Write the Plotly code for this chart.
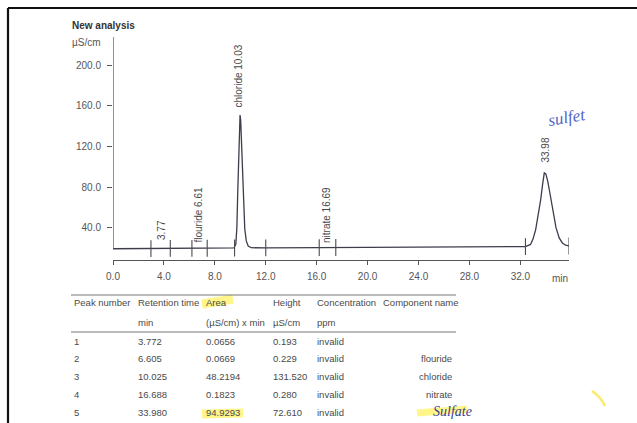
import plotly.graph_objects as go

# ---------------- data ----------------
time_min = [0.0, 2.98, 4.5, 6.2, 7.4, 9.50, 9.65, 9.73, 9.80, 9.87, 9.93, 9.98,
            10.03, 10.09, 10.16, 10.25, 10.35, 10.47, 10.62, 10.85, 12.0, 16.2,
            17.5, 24.0, 32.4, 32.8, 33.0, 33.2, 33.4, 33.6, 33.75, 33.88, 34.0,
            34.15, 34.35, 34.55, 34.8, 35.05, 35.3, 35.55, 35.82]
signal = [19.3, 19.5, 19.6, 19.7, 19.8, 20.1, 24, 40, 75, 118, 143, 151,
          146, 125, 95, 62, 39, 27, 22, 20.3, 20.1, 20.4,
          20.5, 20.9, 21.4, 23.5, 29, 38, 52, 68, 83, 94, 93,
          86, 72, 56, 40, 30, 25, 22.8, 22.0]

marker_times = [2.98, 4.5, 6.2, 7.4, 9.55, 12.0, 16.2, 17.5, 32.4, 35.82]
marker_level = [19.5, 19.6, 19.7, 19.8, 20.0, 20.1, 20.4, 20.5, 21.4, 22.0]

peak_label_text = ["3.77", "flouride 6.61", "chloride 10.03", "nitrate 16.69", "33.98"]
peak_label_x = [3.77, 6.68, 9.82, 16.81, 33.94]
peak_label_y = [25.9, 23.0, 156.0, 23.0, 101.8]

x_ticks = [0, 4, 8, 12, 16, 20, 24, 28, 32]
x_tick_text = ["0.0", "4.0", "8.0", "12.0", "16.0", "20.0", "24.0", "28.0", "32.0"]
y_ticks = [40, 80, 120, 160, 200]
y_tick_text = ["40.0", "80.0", "120.0", "160.0", "200.0"]

header_1 = ["Peak number", "Retention time", "Area", "Height", "Concentration", "Component name"]
header_2 = ["", "min", "(µS/cm) x min", "µS/cm", "ppm", ""]
peak_number = ["1", "2", "3", "4", "5"]
retention_time = ["3.772", "6.605", "10.025", "16.688", "33.980"]
area = ["0.0656", "0.0669", "48.2194", "0.1823", "94.9293"]
height = ["0.193", "0.229", "131.520", "0.280", "72.610"]
concentration = ["invalid", "invalid", "invalid", "invalid", "invalid"]
component = ["", "flouride", "chloride", "nitrate", ""]
handwritten_component = "Sulfate"
handwritten_note = "sulfet"

# ---------------- layout helpers ----------------
W, H = 637, 423
L, R, T, B = 113, 68, 37, 163
PW, PH = W - L - R, H - T - B
X_RANGE = [0, PW / 12.73]
Y_RANGE = [8.2, 8.2 + PH / 1.015]


def px(x, y):
    return (x - L) / PW, (H - B - y) / PH


FONT = "Liberation Sans, Arial, sans-serif"
GREY = "#555555"
TEXT = "#4a4a4a"

fig = go.Figure()

fig.add_trace(go.Scatter(x=time_min, y=signal, mode="lines",
                         line=dict(color="#3d3d4d", width=1.3),
                         hoverinfo="skip", showlegend=False))
fig.add_trace(go.Scatter(x=marker_times, y=marker_level, mode="markers",
                         marker=dict(symbol="line-ns", size=12,
                                     line=dict(color="#4a4a55", width=1.1)),
                         hoverinfo="skip", showlegend=False))

annotations = []
for txt, xv, yv in zip(peak_label_text, peak_label_x, peak_label_y):
    annotations.append(dict(x=xv, y=yv, xref="x", yref="y", text=txt, showarrow=False,
                            textangle=-90, xanchor="center", yanchor="bottom",
                            font=dict(family=FONT, size=10, color=TEXT)))


def ann(x, y, text, size=10, anchor="left", color=TEXT, bold=False, **kw):
    xp, yp = px(x, y)
    if bold:
        text = "<b>" + text + "</b>"
    d = dict(x=xp, y=yp, xref="paper", yref="paper", text=text, showarrow=False,
             xanchor=anchor, yanchor="middle",
             font=dict(family=FONT, size=size, color=color))
    d.update(kw)
    annotations.append(d)


ann(70, 25, "New analysis", size=10, color="#333333", bold=True)
ann(70, 43, "µS/cm", size=10, color=GREY)
ann(560, 278, "min", size=10, anchor="center", color=GREY)

# table
col_x = [72, 136, 204, 271, 315, 381]
row_y = [341, 358.75, 376.5, 394.25, 412]
for cx, h1, h2 in zip(col_x, header_1, header_2):
    ann(cx, 302, h1, size=9.5)
    if h2:
        ann(cx, 322, h2, size=9.5)
columns = [peak_number, retention_time, area, height, concentration]
for cx, col in zip(col_x, columns):
    for ry, val in zip(row_y, col):
        ann(cx, ry, val, size=9.5)
for ry, val in zip(row_y, component):
    if val:
        ann(454, ry, val, size=9.5, anchor="right")

# handwriting
hx, hy = px(452, 411)
annotations.append(dict(x=hx, y=hy, xref="paper", yref="paper", text=handwritten_component,
                        showarrow=False, xanchor="center", yanchor="middle",
                        font=dict(family="Liberation Serif, serif", size=14,
                                  color="#3b418f", style="italic")))
nx, ny = px(567, 117)
annotations.append(dict(x=nx, y=ny, xref="paper", yref="paper", text=handwritten_note,
                        showarrow=False, xanchor="center", yanchor="middle", textangle=-10,
                        font=dict(family="Liberation Serif, serif", size=17,
                                  color="#5563c4", style="italic")))

shapes = []


def pline(x0, y0, x1, y1, color, width, layer="above"):
    a = px(x0, y0)
    b = px(x1, y1)
    shapes.append(dict(type="line", xref="paper", yref="paper", x0=a[0], y0=a[1],
                       x1=b[0], y1=b[1], line=dict(color=color, width=width), layer=layer))


# frame
pline(8, 8, 637, 8, "#111111", 2.2)
pline(8, 8, 8, 423, "#111111", 2.2)
# table rules
pline(71, 295, 456, 295, "#777777", 1)
pline(71, 332, 456, 332, "#777777", 1)
# highlighter strokes
HL = "rgba(255,236,40,0.55)"
pline(202, 304, 233, 299, HL, 9, layer="below")
pline(202, 414, 243, 413, HL, 9, layer="below")
pline(417, 413, 467, 409, HL, 7, layer="below")
p0, p1, p2 = px(592, 391), px(601, 397), px(605, 406)
shapes.append(dict(type="path", xref="paper", yref="paper",
                   path=f"M {p0[0]},{p0[1]} Q {p1[0]},{p1[1]} {p2[0]},{p2[1]}",
                   line=dict(color="rgba(250,225,40,0.7)", width=2.5)))
# y axis line (from baseline up)
shapes.append(dict(type="line", xref="x", yref="y", x0=0, x1=0, y0=19.3, y1=Y_RANGE[1],
                   line=dict(color="#555555", width=1.3)))

fig.update_layout(
    width=W, height=H,
    margin=dict(l=L, r=R, t=T, b=B),
    paper_bgcolor="white", plot_bgcolor="white",
    showlegend=False,
    annotations=annotations, shapes=shapes,
    xaxis=dict(range=X_RANGE, tickvals=x_ticks, ticktext=x_tick_text, showgrid=False,
               zeroline=False, showline=True, linecolor="#555555", linewidth=1.3,
               ticks="outside", ticklen=4, tickcolor="#555555", ticklabelstandoff=3,
               tickfont=dict(family=FONT, size=10, color=GREY)),
    yaxis=dict(range=Y_RANGE, tickvals=y_ticks, ticktext=y_tick_text, showgrid=False,
               zeroline=False, showline=False, ticks="outside", ticklen=5,
               tickcolor="#555555", ticklabelstandoff=4,
               tickfont=dict(family=FONT, size=10, color=GREY)),
)

fig.write_html("out.html")
